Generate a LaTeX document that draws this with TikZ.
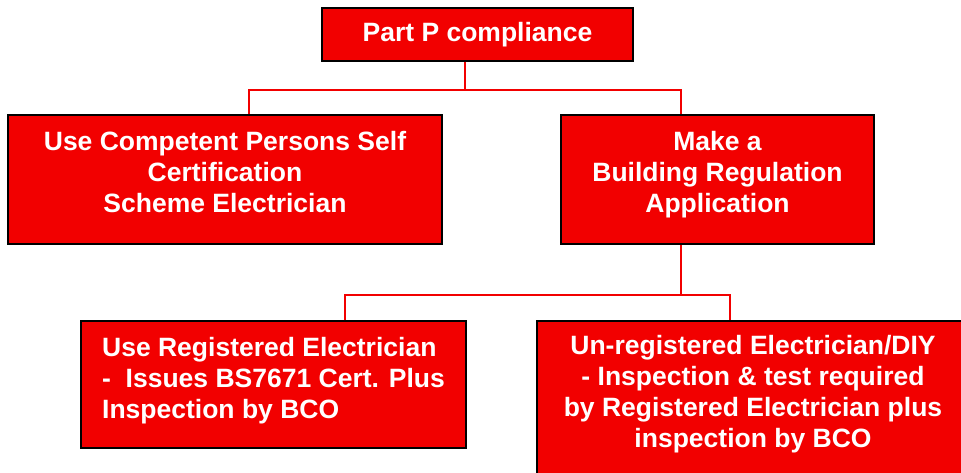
\documentclass[tikz,border=0pt]{standalone}
\usepackage{fontspec}
\setmainfont{Liberation Sans}
\definecolor{ppred}{RGB}{242,0,0}
\newcommand{\lastgap}{\rule[-16pt]{0pt}{1pt}}
\tikzset{
  box/.style={draw=black, line width=1.5pt, fill=ppred, text=white,
    font=\fontsize{26.5}{31}\selectfont\bfseries, inner sep=0pt, align=center},
  link/.style={draw=ppred, line width=1.3pt}
}

\begin{document}
\begin{tikzpicture}[x=1pt, y=-1pt]
    \useasboundingbox (0,0) rectangle (961,473);

    \node[box, minimum width=311pt, minimum height=53pt] (top) at (477.5,34.5) {Part P compliance};
    \node[box, minimum width=434pt, minimum height=129pt] (comp) at (225,179.5)
        {Use Competent Persons Self\\Certification\\Scheme Electrician\lastgap};
    \node[box, minimum width=313pt, minimum height=129pt] (app) at (717.5,179.5)
        {Make a\\Building Regulation\\Application\lastgap};
    \node[box, minimum width=385pt, minimum height=127pt] (reg) at (273.5,384.5)
        {\begin{tabular}{@{}l@{}}Use Registered Electrician\\-\ \ Issues BS7671 Cert. Plus\\Inspection by BCO\lastgap\end{tabular}};
    \node[box, minimum width=432pt, minimum height=156pt] (unreg) at (753,399)
        {Un-registered Electrician/DIY\\- Inspection \& test required\\by Registered Electrician plus\\inspection by BCO\lastgap};

    \coordinate (bus1) at (465,90);
    \coordinate (busL) at (249,90);
    \coordinate (busR) at (681,90);
    \draw[link] (bus1 |- top.south) -- (bus1);
    \draw[link] (busL |- comp.north) -- (busL) -- (busR) -- (busR |- app.north);

    \coordinate (bus2) at (681,295);
    \coordinate (bus2L) at (345,295);
    \coordinate (bus2R) at (730,295);
    \draw[link] (bus2 |- app.south) -- (bus2);
    \draw[link] (bus2L |- reg.north) -- (bus2L) -- (bus2R) -- (bus2R |- unreg.north);
\end{tikzpicture}
\end{document}
